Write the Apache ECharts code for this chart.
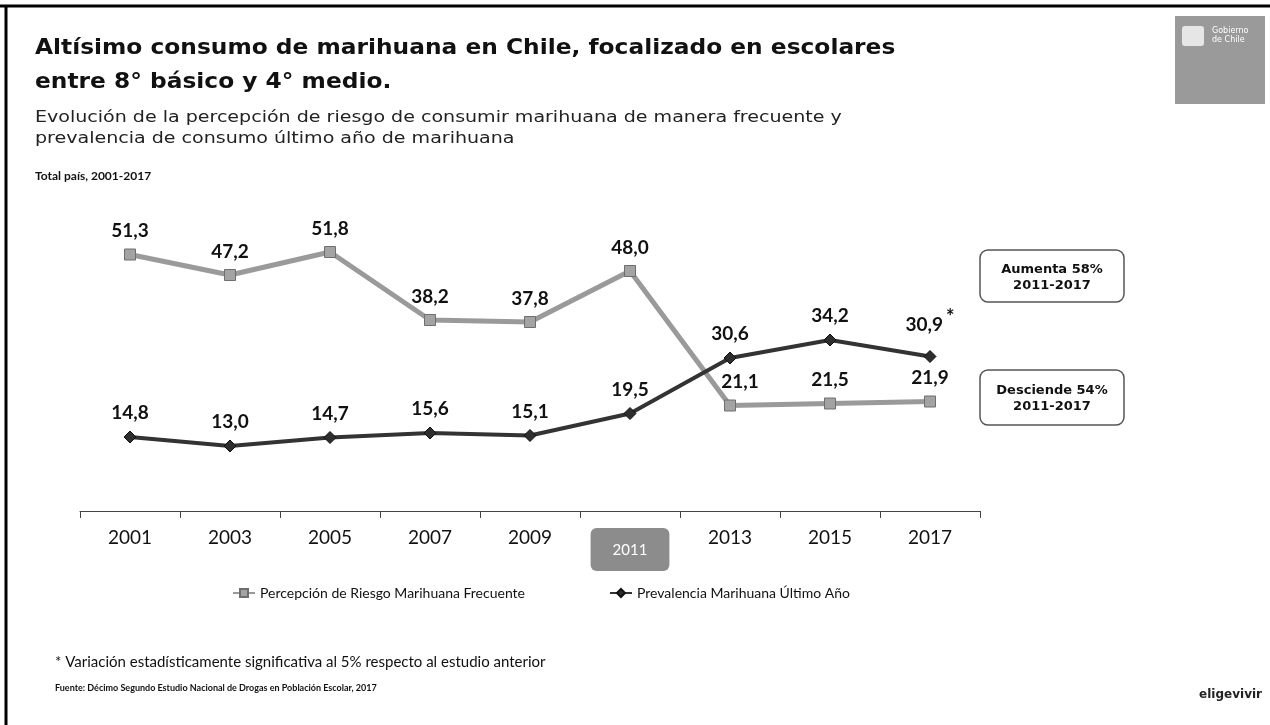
<!DOCTYPE html>
<html>
<head>
<meta charset="utf-8">
<script src="https://cdn.jsdelivr.net/npm/echarts@6/dist/echarts.min.js"></script>
<style>
  html, body { margin: 0; padding: 0; background: #fff; }
  #chart { width: 1270px; height: 725px; }
</style>
</head>
<body>
<div id="chart"></div>
<script>
const years = ['2001', '2003', '2005', '2007', '2009', '2011', '2013', '2015', '2017'];
const riesgo = [51.3, 47.2, 51.8, 38.2, 37.8, 48.0, 21.1, 21.5, 21.9];
const prevalencia = [14.8, 13.0, 14.7, 15.6, 15.1, 19.5, 30.6, 34.2, 30.9];
// asterisk = significant change vs previous study
const prevSignificant = [false, false, false, false, false, false, false, false, true];

const labelFont = 'Lato, "Open Sans", sans-serif';
const verdana = '"DejaVu Sans", Verdana, sans-serif';
const fmt = v => v.toFixed(1).replace('.', ',');

const chart = echarts.init(document.getElementById('chart'));

const riesgoData = riesgo.map((v, i) => {
  const item = { value: v };
  // 2013 label sits a bit right of its point in the original
  if (i === 6) item.label = { offset: [10, 0] };
  return item;
});

const prevData = prevalencia.map((v, i) => ({
  value: v,
  label: {
    formatter: prevSignificant[i] ? '{v|' + fmt(v) + '}{s|*}' : '{v|' + fmt(v) + '}'
  }
}));

// small helper for static text placed at x/y
const txt = (x, y, text, font, extra) => ({
  type: 'text',
  x: x,
  y: y,
  scaleX: (extra && extra.scaleX) || 1,
  style: Object.assign({ text: text, font: font, fill: '#111', textVerticalAlign: 'top' }, (extra && extra.style) || {})
});

const option = {
  animation: false,
  backgroundColor: '#fff',
  grid: { left: 80, right: 290, top: 211, bottom: 214 },
  legend: {
    left: 227,
    top: 581,
    itemGap: 84,
    itemWidth: 22,
    itemHeight: 10,
    textStyle: { fontFamily: labelFont, fontSize: 14, color: '#111' },
    data: ['Percepción de Riesgo Marihuana Frecuente', 'Prevalencia Marihuana Último Año']
  },
  xAxis: {
    type: 'category',
    data: years,
    boundaryGap: true,
    axisLine: { lineStyle: { color: '#444', width: 1 } },
    axisTick: { show: true, length: 7, lineStyle: { color: '#444' } },
    axisLabel: {
      margin: 17,
      fontFamily: labelFont,
      fontSize: 19,
      color: '#111',
      formatter: v => (v === '2011' ? '{hl|' + v + '}' : v),
      rich: {
        hl: {
          backgroundColor: '#8c8c8c',
          color: '#fff',
          borderRadius: 6,
          padding: [15, 22, 13, 22],
          fontFamily: labelFont,
          fontSize: 15
        }
      }
    },
    splitLine: { show: false }
  },
  yAxis: {
    type: 'value',
    min: 0,
    max: 60,
    show: false
  },
  series: [
    {
      name: 'Percepción de Riesgo Marihuana Frecuente',
      type: 'line',
      data: riesgoData,
      symbol: 'rect',
      symbolSize: 11,
      itemStyle: { color: '#a3a3a3', borderColor: '#6e6e6e', borderWidth: 1 },
      lineStyle: { color: '#9a9a9a', width: 5 },
      label: {
        show: true,
        position: 'top',
        distance: 8,
        fontFamily: labelFont,
        fontWeight: 'bold',
        fontSize: 19,
        color: '#111',
        formatter: p => fmt(p.value)
      },
      z: 2
    },
    {
      name: 'Prevalencia Marihuana Último Año',
      type: 'line',
      data: prevData,
      symbol: 'diamond',
      symbolSize: 12,
      itemStyle: { color: '#2e2e2e', borderColor: '#111', borderWidth: 1 },
      lineStyle: { color: '#333', width: 4 },
      label: {
        show: true,
        position: 'top',
        distance: 8,
        rich: {
          v: { fontFamily: labelFont, fontWeight: 'bold', fontSize: 19, color: '#111' },
          s: { fontFamily: labelFont, fontWeight: 'bold', fontSize: 20, color: '#111', verticalAlign: 'top', padding: [0, 0, 14, 3] }
        }
      },
      z: 3
    }
  ],
  graphic: [
    // page frame (top and left edges only)
    { type: 'line', shape: { x1: 0, y1: 6, x2: 1270, y2: 6 }, style: { stroke: '#000', lineWidth: 3 } },
    { type: 'line', shape: { x1: 6, y1: 6, x2: 6, y2: 725 }, style: { stroke: '#000', lineWidth: 3 } },
    txt(35, 37, 'Altísimo consumo de marihuana en Chile, focalizado en escolares', 'bold 22px ' + verdana, { scaleX: 1.06 }),
    txt(35, 71, 'entre 8° básico y 4° medio.', 'bold 22px ' + verdana, { scaleX: 1.06 }),
    txt(35, 110, 'Evolución de la percepción de riesgo de consumir marihuana de manera frecuente y', '16px ' + verdana, { scaleX: 1.19, style: { fill: '#222' } }),
    txt(35, 131, 'prevalencia de consumo último año de marihuana', '16px ' + verdana, { scaleX: 1.19, style: { fill: '#222' } }),
    txt(35, 170, 'Total país, 2001-2017', 'bold 12px ' + labelFont),
    // annotation boxes
    {
      type: 'rect',
      shape: { x: 980, y: 250, width: 144, height: 52, r: 8 },
      style: { fill: '#fff', stroke: '#555', lineWidth: 1.5 }
    },
    txt(1052, 262, 'Aumenta 58%\n2011-2017', 'bold 13px ' + verdana, { style: { textAlign: 'center', lineHeight: 16 } }),
    {
      type: 'rect',
      shape: { x: 980, y: 370, width: 144, height: 55, r: 8 },
      style: { fill: '#fff', stroke: '#555', lineWidth: 1.5 }
    },
    txt(1052, 383, 'Desciende 54%\n2011-2017', 'bold 13px ' + verdana, { style: { textAlign: 'center', lineHeight: 16 } }),
    // logo block
    {
      type: 'rect',
      shape: { x: 1175, y: 16, width: 90, height: 88 },
      style: { fill: '#9a9a9a' }
    },
    {
      type: 'rect',
      shape: { x: 1182, y: 26, width: 22, height: 20, r: 3 },
      style: { fill: '#e6e6e6' }
    },
    txt(1212, 26, 'Gobierno\nde Chile', '8px ' + verdana, { style: { fill: '#fff', lineHeight: 9 } }),
    txt(55, 655, '* Variación estadísticamente significativa al 5% respecto al estudio anterior', '15px ' + labelFont),
    txt(55, 684, 'Fuente: Décimo Segundo Estudio Nacional de Drogas en Población Escolar, 2017', '9px ' + labelFont, { style: { font: 'bold 9px ' + labelFont } }),
    txt(1262, 689, 'eligevivir', 'bold 12px ' + verdana, { style: { textAlign: 'right', fill: '#222' } })
  ]
};

chart.setOption(option);
</script>
</body>
</html>
